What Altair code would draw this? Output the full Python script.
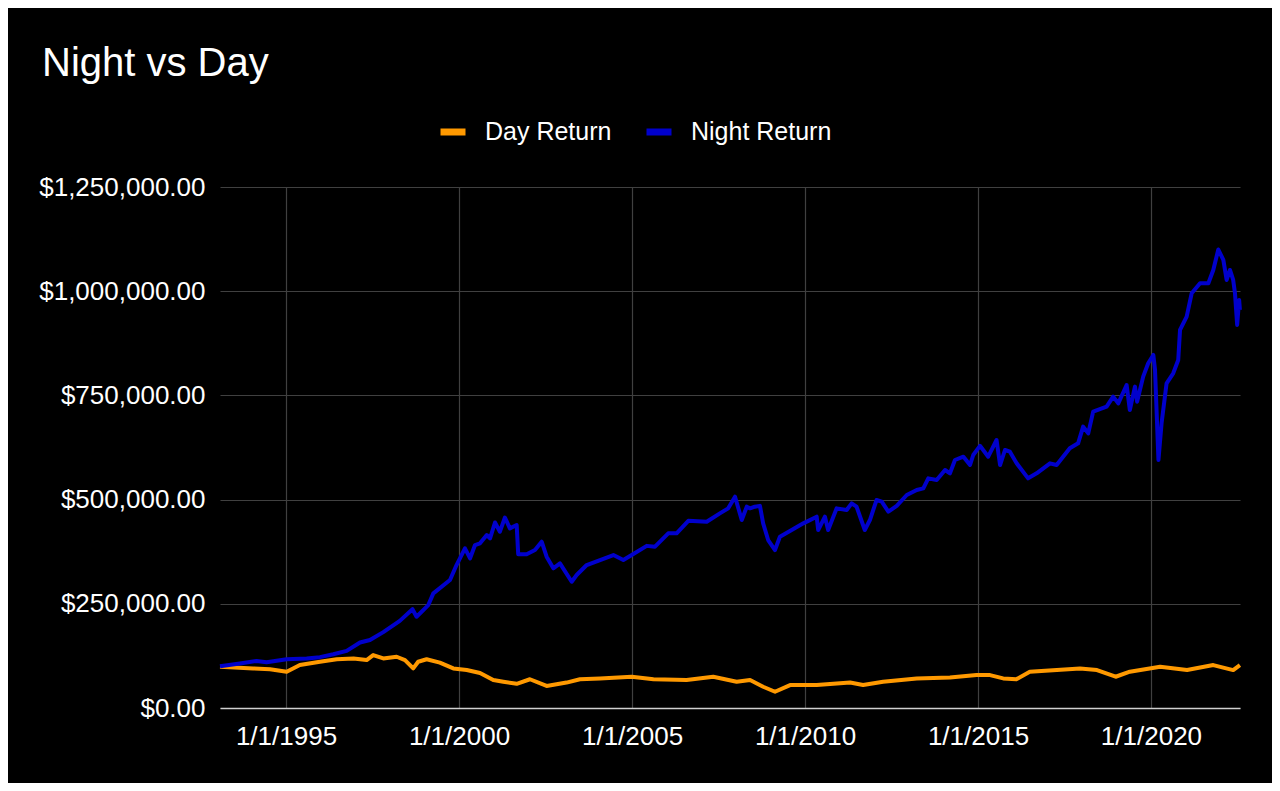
import altair as alt
import pandas as pd

night_dates = [
    "1993-02-03", "1993-09-01", "1994-02-25", "1994-06-10", "1995-01-08", "1995-08-07",
    "1995-12-25", "1996-05-14", "1996-10-02", "1997-02-20", "1997-06-05", "1997-10-24",
    "1998-04-16", "1998-08-28", "1998-10-10", "1999-02-11", "1999-04-05", "1999-09-28",
    "1999-12-06", "2000-03-04", "2000-04-27", "2000-06-18", "2000-08-10", "2000-10-20",
    "2000-11-24", "2001-01-15", "2001-03-08", "2001-04-30", "2001-06-21", "2001-09-01",
    "2001-09-17", "2001-12-15", "2002-03-13", "2002-05-23", "2002-07-14", "2002-09-23",
    "2002-12-02", "2003-04-05", "2003-05-27", "2003-09-10", "2004-01-29", "2004-06-18",
    "2004-10-01", "2004-12-28", "2005-06-05", "2005-08-31", "2006-01-18", "2006-04-16",
    "2006-08-18", "2007-02-28", "2007-07-17", "2007-10-13", "2007-12-24", "2008-03-04",
    "2008-04-26", "2008-05-31", "2008-07-20", "2008-09-12", "2008-10-16", "2008-12-08",
    "2009-02-18", "2009-04-11", "2009-08-13", "2009-12-14", "2010-05-04", "2010-05-20",
    "2010-07-30", "2010-09-02", "2010-12-01", "2011-03-17", "2011-05-08", "2011-06-29",
    "2011-09-24", "2011-11-17", "2012-01-26", "2012-03-21", "2012-05-30", "2012-08-26",
    "2012-12-10", "2013-03-25", "2013-06-03", "2013-07-25", "2013-10-22", "2014-01-18",
    "2014-03-11", "2014-05-03", "2014-07-31", "2014-10-09", "2014-11-12", "2015-01-22",
    "2015-04-19", "2015-07-16", "2015-08-22", "2015-10-13", "2015-12-04", "2016-02-13",
    "2016-06-13", "2016-09-11", "2017-01-30", "2017-04-10", "2017-08-27", "2017-11-23",
    "2018-01-15", "2018-03-10", "2018-05-01", "2018-09-20", "2018-11-28", "2019-01-21",
    "2019-04-19", "2019-05-23", "2019-07-16", "2019-08-08", "2019-10-11", "2019-12-03",
    "2020-01-26", "2020-02-13", "2020-03-20", "2020-04-22", "2020-06-14", "2020-08-23",
    "2020-10-15", "2020-11-03", "2021-01-12", "2021-03-06", "2021-06-02", "2021-08-29",
    "2021-10-20", "2021-12-12", "2022-02-03", "2022-03-10", "2022-04-14", "2022-05-18",
    "2022-06-06", "2022-06-29", "2022-07-20", "2022-07-28",
]
night_values = [
    100000, 107000, 113000, 110000, 117000, 119000,
    122000, 129000, 137000, 157000, 163000, 182000,
    209000, 237000, 219000, 247000, 275000, 307000,
    343000, 383000, 359000, 391000, 395000, 415000,
    407000, 445000, 423000, 457000, 431000, 439000,
    369000, 369000, 379000, 399000, 363000, 335000,
    347000, 303000, 319000, 343000, 355000, 367000,
    355000, 367000, 389000, 387000, 419000, 419000,
    449000, 447000, 467000, 479000, 507000, 451000,
    483000, 479000, 483000, 485000, 443000, 403000,
    379000, 411000, 427000, 443000, 459000, 427000,
    459000, 427000, 479000, 475000, 491000, 483000,
    427000, 451000, 499000, 495000, 471000, 485000,
    511000, 523000, 527000, 551000, 547000, 571000,
    563000, 595000, 603000, 583000, 607000, 629000,
    603000, 643000, 583000, 619000, 615000, 587000,
    551000, 563000, 587000, 583000, 623000, 635000,
    675000, 659000, 711000, 723000, 747000, 731000,
    775000, 715000, 771000, 735000, 795000, 827000,
    847000, 811000, 595000, 683000, 779000, 803000,
    835000, 907000, 939000, 995000, 1019000, 1019000,
    1051000, 1100000, 1075000, 1027000, 1051000, 1027000,
    995000, 919000, 979000, 955000,
]

day_dates = [
    "1993-02-03", "1994-01-19", "1994-07-16", "1995-01-08", "1995-05-27", "1995-12-25",
    "1996-06-20", "1996-12-14", "1997-05-01", "1997-07-09", "1997-10-24", "1998-03-14",
    "1998-06-10", "1998-09-05", "1998-10-27", "1999-01-24", "1999-06-13", "1999-11-02",
    "2000-03-23", "2000-08-10", "2000-12-28", "2001-04-13", "2001-09-01", "2002-01-19",
    "2002-07-14", "2003-02-09", "2003-07-01", "2004-01-29", "2004-12-28", "2005-08-15",
    "2006-07-31", "2007-05-08", "2008-01-10", "2008-05-31", "2008-10-16", "2009-02-18",
    "2009-07-27", "2010-05-04", "2011-04-22", "2011-09-06", "2012-04-04", "2013-03-25",
    "2014-03-11", "2014-12-17", "2015-05-08", "2015-09-24", "2016-02-10", "2016-07-01",
    "2017-12-13", "2018-06-10", "2018-12-24", "2019-05-23", "2020-04-07", "2021-01-16",
    "2021-10-20", "2022-05-18", "2022-07-28",
]
day_values = [
    99000, 95000, 93000, 87000, 103000, 111000,
    117000, 119000, 115000, 127000, 119000, 123000,
    115000, 95000, 111000, 117000, 109000, 95000,
    91000, 84000, 67000, 63000, 58000, 69000,
    53000, 61000, 69000, 71000, 75000, 69000,
    67000, 75000, 63000, 67000, 51000, 39000,
    55000, 55000, 61000, 55000, 63000, 71000,
    73000, 79000, 79000, 71000, 69000, 87000,
    95000, 91000, 75000, 87000, 99000, 91000,
    103000, 91000, 103000,
]

series_names = ["Day Return", "Night Return"]
series_colors = ["#ff9900", "#0000cc"]
y_ticks = [0, 250000, 500000, 750000, 1000000, 1250000]
x_tick_years = [1995, 2000, 2005, 2010, 2015, 2020]

df = pd.concat([
    pd.DataFrame({"date": day_dates, "value": day_values, "series": series_names[0]}),
    pd.DataFrame({"date": night_dates, "value": night_values, "series": series_names[1]}),
], ignore_index=True)

font = "Liberation Sans"

chart = alt.Chart(df).mark_line(strokeWidth=4, strokeJoin="round").encode(
    x=alt.X(
        "date:T",
        scale=alt.Scale(
            type="utc",
            domain=[alt.DateTime(year=1993, month=2, date=3, utc=True),
                    alt.DateTime(year=2022, month=7, date=29, utc=True)],
        ),
        axis=alt.Axis(
            title=None,
            values=[alt.DateTime(year=y, month=1, date=1, utc=True) for y in x_tick_years],
            format="%-m/%-d/%Y",
            labelFontSize=26,
            labelColor="#ffffff",
            labelFont=font,
            labelPadding=15,
            ticks=False,
            domainColor="#d0d0d0",
            domainWidth=1.5,
            gridColor="#404040",
            gridWidth=1.2,
            labelFlush=False,
        ),
    ),
    y=alt.Y(
        "value:Q",
        scale=alt.Scale(domain=[0, 1250000], nice=False),
        axis=alt.Axis(
            title=None,
            values=y_ticks,
            format="$,.2f",
            labelFontSize=26,
            labelColor="#ffffff",
            labelFont=font,
            labelPadding=15,
            ticks=False,
            domain=False,
            gridColor="#404040",
            gridWidth=1.2,
        ),
    ),
    color=alt.Color(
        "series:N",
        scale=alt.Scale(domain=series_names, range=series_colors),
        legend=alt.Legend(
            title=None,
            orient="none",
            direction="horizontal",
            legendX=217,
            legendY=-71,
            symbolType="stroke",
            symbolSize=625,
            symbolStrokeWidth=7,
            labelFontSize=25,
            labelFont=font,
            labelColor="#ffffff",
            labelOffset=16,
            columnPadding=20,
            padding=0,
        ),
    ),
).properties(
    width=1020,
    height=521,
    padding={"left": 212, "top": 179, "right": 32, "bottom": 75},
    autosize=alt.AutoSizeParams(type="none"),
    background="#000000",
    title=alt.TitleParams(
        text="Night vs Day",
        anchor="start",
        frame="group",
        fontSize=40,
        font=font,
        fontWeight="normal",
        color="#ffffff",
        dx=-178,
        dy=-28,
    ),
).configure_view(stroke=None)

chart.save("out.html", embed_options={"renderer": "svg", "actions": False})
